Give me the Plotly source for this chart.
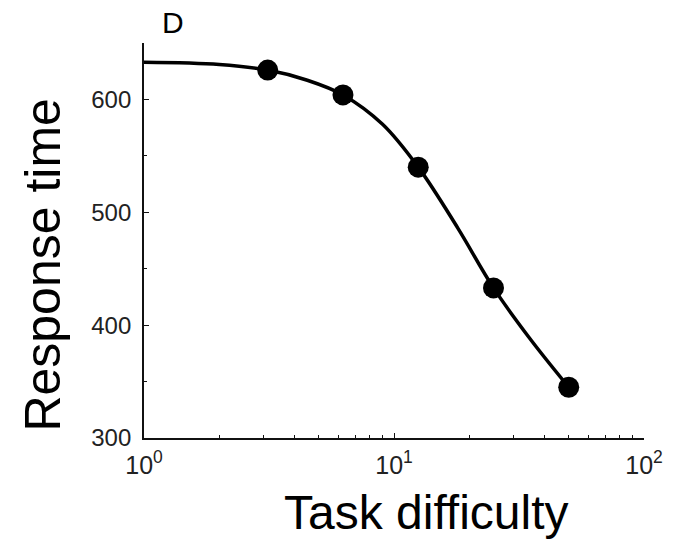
import plotly.graph_objects as go

# Observed mean response times at each difficulty level
difficulty = [3.125, 6.25, 12.5, 25, 50]
response_time = [626, 604, 540, 433, 345]

# Points along the fitted curve
fit_difficulty = [1, 2, 3.125, 4.5, 6.25, 9, 12.5, 18, 25, 35, 50]
fit_response = [633, 631, 626, 617, 604, 578, 540, 486, 433, 388, 345]

# Axis ticks
x_major = [1, 10, 100]
x_major_text = ["10<sup>0</sup>", "10<sup>1</sup>", "10<sup>2</sup>"]
x_minor = [2, 3, 4, 5, 6, 7, 8, 9, 20, 30, 40, 50, 60, 70, 80, 90]
y_major = [300, 400, 500, 600]
y_minor = [350, 450, 550, 650]

W, H = 675, 543
L, R, T, B = 144, 28, 43, 105
pw, ph = W - L - R, H - T - B


def px_x(x):
    return (x - L) / pw


def px_y(y):
    return (H - B - y) / ph


FONT = "Liberation Sans, Arial, Helvetica, sans-serif"

fig = go.Figure()
fig.add_trace(go.Scatter(
    x=fit_difficulty, y=fit_response, mode="lines",
    line=dict(color="black", width=3.5, shape="spline", smoothing=1.0),
    hoverinfo="skip", showlegend=False,
))
fig.add_trace(go.Scatter(
    x=difficulty, y=response_time, mode="markers",
    marker=dict(color="black", size=21),
    showlegend=False,
))

axis_common = dict(
    showgrid=False, zeroline=False, showline=True,
    linecolor="#111", linewidth=1.8,
    ticks="inside", ticklen=5, tickwidth=1.4, tickcolor="#111",
    mirror=False,
)

fig.update_xaxes(
    type="log", range=[0, 2],
    tickvals=x_major, ticktext=x_major_text,
    tickfont=dict(family=FONT, size=25, color="#222"),
    ticklabelstandoff=4,
    minor=dict(tickvals=x_minor, ticks="inside", ticklen=3,
               tickwidth=1.2, tickcolor="#111"),
    **axis_common,
)
fig.update_yaxes(
    range=[300, 650],
    tickvals=y_major,
    tickfont=dict(family=FONT, size=24, color="#222"),
    minor=dict(tickvals=y_minor, ticks="inside", ticklen=3,
               tickwidth=1.2, tickcolor="#111"),
    ticklabelstandoff=6,
    **axis_common,
)

fig.update_layout(
    width=W, height=H,
    margin=dict(l=L, r=R, t=T, b=B),
    paper_bgcolor="white", plot_bgcolor="white",
    font=dict(family=FONT, color="black"),
    annotations=[
        dict(text="Task difficulty", xref="paper", yref="paper",
             x=px_x(428), y=px_y(512), xanchor="center", yanchor="middle",
             showarrow=False, font=dict(size=48, color="black")),
        dict(text="Response time", xref="paper", yref="paper",
             x=px_x(42), y=px_y(265), xanchor="center", yanchor="middle",
             textangle=-90, showarrow=False,
             font=dict(size=50, color="black")),
        dict(text="D", xref="paper", yref="paper",
             x=px_x(173), y=px_y(23), xanchor="center", yanchor="middle",
             showarrow=False, font=dict(size=30, color="black")),
    ],
)

fig.write_html("out.html")
